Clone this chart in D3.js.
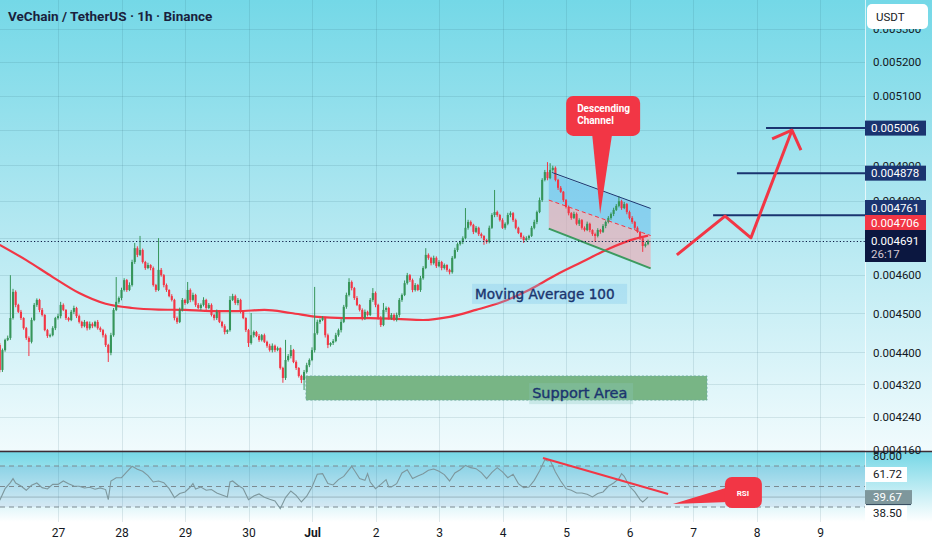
<!DOCTYPE html>
<html><head><meta charset="utf-8">
<script src="https://cdn.jsdelivr.net/npm/d3@7/dist/d3.min.js"></script>
<style>body{margin:0;background:#fff;overflow:hidden}svg{display:block}</style>
</head><body>
<svg id="c" width="932" height="550"></svg>
<script>
// ---------------- DATA ----------------
const title = "VeChain / TetherUS · 1h · Binance";
const firstCandleTime = Date.UTC(2024, 5, 26, 2); // hourly candles
// prices in units of 0.000001 USDT
const firstOpen = 4419;
const closes = [
4356,4406,4432,4437,4488,4556,4522,4504,4488,4462,
4437,4427,4483,4522,4535,4509,4496,4457,4442,4444,
4462,4488,4493,4522,4509,4488,4483,4504,4514,4493,
4478,4467,4478,4462,4473,4467,4478,4462,4457,4444,
4419,4399,4444,4509,4530,4540,4561,4587,4561,4574,
4635,4672,4654,4667,4635,4619,4627,4619,4574,4561,
4614,4600,4574,4561,4545,4535,4488,4478,4509,4535,
4527,4561,4535,4548,4522,4514,4522,4535,4514,4522,
4496,4488,4504,4478,4467,4452,4457,4535,4545,4527,
4535,4504,4488,4457,4424,4444,4452,4442,4432,4444,
4427,4417,4406,4417,4406,4411,4361,4336,4381,4391,
4406,4376,4361,4341,4331,4351,4368,4381,4406,4449,
4478,4483,4488,4444,4419,4424,4429,4444,4457,4478,
4517,4548,4582,4566,4540,4522,4509,4488,4504,4496,
4535,4553,4522,4488,4470,4509,4514,4488,4496,4483,
4496,4535,4548,4579,4600,4587,4561,4574,4561,4592,
4619,4654,4646,4632,4646,4624,4635,4619,4627,4614,
4608,4646,4667,4683,4689,4699,4727,4743,4735,4716,
4727,4710,4705,4694,4689,4727,4762,4770,4762,4748,
4727,4738,4762,4767,4748,4727,4713,4702,4694,4699,
4705,4727,4743,4770,4803,4859,4881,4864,4887,4893,
4859,4837,4826,4803,4784,4767,4754,4765,4738,4748,
4727,4721,4738,4721,4710,4705,4721,4716,4732,4743,
4754,4765,4776,4787,4800,4781,4792,4770,4754,4743,
4727,4716,4699,4678,4683,4691];
const upperWick = [
5,4,3,6,112,8,4,3,5,2, 3,4,6,5,4,3,5,2,3,4, 5,3,6,8,4,2,3,5,6,3, 4,3,5,2,6,4,3,5,4,3,
4,3,6,5,65,4,6,5,3,7, 6,14,5,38,4,3,6,2,4,3, 85,5,3,4,2,5,3,4,6,5, 3,21,4,6,3,5,4,7,3,5,
4,3,6,4,3,5,2,10,6,4, 5,3,4,2,3,57,4,3,5,3, 4,3,5,6,3,4,2,3,51,5, 13,3,4,2,3,5,6,4,7,120,
6,4,5,3,4,2,5,6,4,7, 5,6,10,4,3,5,2,4,6,3, 5,13,4,3,5,18,4,3,5,4, 6,5,4,7,6,3,4,5,3,6,
5,18,4,3,6,4,5,3,4,2, 3,5,6,4,3,5,54,6,4,3, 5,3,4,2,3,6,5,61,4,3, 5,4,6,5,3,4,3,2,4,5,
3,5,6,4,7,5,6,28,19,6, 4,3,5,2,3,4,3,6,4,5, 3,4,6,3,2,4,5,3,5,4, 5,4,6,5,14,4,6,3,4,5,
3,4,2,3,5,4];
const lowerWick = [
6,5,4,3,5,4,6,3,5,4, 5,36,4,3,5,6,4,3,5,4, 3,5,4,6,3,5,4,3,6,5, 4,5,3,6,4,5,3,4,5,6,
5,23,6,4,3,5,6,4,5,3, 4,5,6,3,4,5,3,6,4,5, 3,4,6,5,3,4,6,5,3,4, 5,3,6,4,5,3,6,4,5,3,
4,6,5,3,4,6,5,4,3,5, 6,4,3,5,10,4,6,3,5,4, 3,5,4,6,5,3,4,12,5,4, 6,3,5,4,8,25,4,5,3,6,
4,5,3,6,8,4,5,3,4,6, 3,5,4,6,5,3,4,6,5,4, 3,5,6,4,5,3,6,4,5,3, 4,6,5,3,4,5,6,4,3,5,
4,3,5,6,4,5,3,6,4,5, 6,4,3,5,4,6,3,5,4,6, 3,5,6,13,5,4,3,6,5,4, 3,5,4,6,5,4,3,5,8,4,
5,3,4,6,3,5,4,6,3,5, 4,6,3,5,4,6,5,3,4,6, 5,4,3,6,5,16,4,5,3,6, 4,5,6,3,4,5,3,6,4,5,
6,3,5,16,4,3];
// Moving average 100, sampled at candle indices
const maIndex = [0,10,20,30,40,50,60,70,80,90,100,110,120,130,140,150,160,170,180,190,200,210,220,230,240,245];
const maValues = [4681,4640,4595,4553,4525,4514,4510,4509,4506,4506,4509,4501,4491,4488,4488,4486,4483,4491,4509,4530,4561,4600,4635,4670,4697,4706];
// RSI: [candle index, value]
const rsiPoints = [[0,36.6],[2,47.9],[4,53.8],[5,57.7],[6,53.4],[8,50.5],[10,46.3],[12,51.2],[14,53.4],[16,48.9],[18,47.6],[20,52.1],[22,52.1],[24,55.4],[26,52.8],[28,50.5],[30,50.2],[32,48.6],[34,49.2],[36,47.3],[38,48.6],[40,47.0],[41,37.2],[42,55.4],[44,58.6],[46,58.6],[48,64.2],[50,69.7],[52,66.8],[54,64.8],[56,60.6],[58,54.4],[60,55.4],[62,53.8],[64,47.9],[66,39.2],[68,43.1],[70,44.7],[72,49.5],[73,52.8],[74,47.6],[76,49.5],[78,46.3],[80,47.0],[82,43.7],[84,41.8],[86,39.8],[87,54.4],[88,55.4],[90,51.2],[92,47.9],[94,37.2],[96,40.8],[98,42.7],[100,39.5],[102,37.5],[104,35.9],[106,28.4],[108,39.2],[110,45.6],[112,41.4],[114,34.9],[116,40.5],[118,49.5],[120,61.9],[122,62.5],[124,52.8],[126,51.5],[128,56.7],[130,59.9],[132,66.4],[133,69.7],[134,65.8],[136,57.7],[138,56.0],[139,62.5],[140,54.4],[142,47.9],[144,52.1],[146,56.7],[147,49.5],[148,49.5],[150,52.8],[152,63.2],[154,66.4],[156,57.7],[158,60.3],[160,62.5],[162,65.8],[164,67.1],[166,64.8],[168,61.6],[170,55.4],[172,63.2],[174,66.4],[176,70.6],[178,68.4],[180,67.4],[182,63.5],[184,57.7],[186,63.8],[188,68.4],[190,64.2],[192,58.6],[194,61.9],[196,52.8],[198,48.9],[200,49.5],[202,56.0],[204,65.1],[206,76.2],[207,74.9],[208,75.5],[210,64.2],[212,55.4],[214,47.9],[216,46.3],[218,43.7],[220,43.7],[222,42.4],[224,39.8],[226,43.1],[228,44.7],[230,50.2],[232,53.4],[234,57.7],[235,62.5],[236,59.9],[238,50.2],[240,44.7],[242,37.2],[243,34.9],[244,37.2],[245,39.67]];
// axes
const priceTicks = [5300,5200,5100,5000,4900,4800,4700,4600,4500,4400,4320,4240,4160];
const dayTicks = [27,28,29,30,31,32,33,34,35,36,37,38,39].map(d => Date.UTC(2024,5,d));
const dayLabels = ["27","28","29","30","Jul","2","3","4","5","6","7","8","9"];
const rsiBands = [70,50,30];
// price labels on axis
const priceMarkers = [5006,4878,4761];
const maLast = 4706, lastPrice = 4691, countdown = "26:17";
const rsiAxisLabels = [80.00, 61.72, 39.67, 38.50];
// drawings (candle index, price)
const targetLevels = [[289.6,5006],[278.6,4878],[269.6,4761]];
const forecastPath = [[255.9,4654],[274.1,4759],[283.9,4700],[299.4,5000]];
const forecastHead = [[291.9,4975],[299.4,5000],[302.8,4943]];
const channelIdx = [207.5,246];
const channelUpper = [4880,4780], channelMiddle = [4803,4706], channelLower = [4725,4618];
const channelTip = [226.9,4765];
const supportIdx = [115.7,267.3], supportPrices = [4341,4281];
const maLabelAnchor = [178.5,4577], supportLabelAnchor = [201.2,4286];
const rsiTrend = [[205.3,77.8],[252.6,42.7]];
const rsiTip = [254.4,32.9];

// ---------------- SCALES ----------------
const PR = 865, PB = 451, RT = 452, RB = 522;
const svg = d3.select("#c");
const x = d3.scaleUtc().domain([Date.UTC(2024,5,27), Date.UTC(2024,6,9)]).range([58,820]);
const xi = i => x(new Date(firstCandleTime + i*3600e3));
const y = d3.scaleLog().domain([4160,5200]).range([450,62]);
const ry = d3.scaleLinear().domain([30,70]).range([507,466]);
const RED = "#f23645", GREEN = "#36955a", NAVY = "#1a3470", FONT = "Roboto, 'Liberation Sans', sans-serif";

const defs = svg.append("defs");
function grad(id, stops){ const g = defs.append("linearGradient").attr("id",id).attr("x1",0).attr("y1",0).attr("x2",0).attr("y2",1);
  stops.forEach(s => g.append("stop").attr("offset",s[0]).attr("stop-color",s[1])); }
grad("gP", [[0,"#74d8e7"],[0.45,"#ade6f0"],[1,"#f1fbfd"]]);
grad("gR", [[0,"#76d7e6"],[1,"#ffffff"]]);
defs.append("clipPath").attr("id","cpP").append("rect").attr("x",0).attr("y",0).attr("width",PR).attr("height",PB);
defs.append("clipPath").attr("id","cpR").append("rect").attr("x",0).attr("y",RT).attr("width",PR).attr("height",RB-RT);

svg.append("rect").attr("width",932).attr("height",550).attr("fill","#fff");
svg.append("rect").attr("width",932).attr("height",PB).attr("fill","url(#gP)");
svg.append("rect").attr("y",RT).attr("width",932).attr("height",RB-RT).attr("fill","url(#gR)");

const gP = svg.append("g").attr("clip-path","url(#cpP)");
const gR = svg.append("g").attr("clip-path","url(#cpR)");
const grid = "rgba(40,90,110,0.13)";

// grid
gP.selectAll(".hg").data(priceTicks).join("line").attr("x1",0).attr("x2",PR)
  .attr("y1",d=>Math.round(y(d))+0.5).attr("y2",d=>Math.round(y(d))+0.5).attr("stroke",grid);
gP.selectAll(".vg").data(dayTicks).join("line").attr("y1",0).attr("y2",PB)
  .attr("x1",d=>Math.round(x(d))+0.5).attr("x2",d=>Math.round(x(d))+0.5).attr("stroke",grid);
gR.selectAll(".vg").data(dayTicks).join("line").attr("y1",RT).attr("y2",RB)
  .attr("x1",d=>Math.round(x(d))+0.5).attr("x2",d=>Math.round(x(d))+0.5).attr("stroke",grid);

// support area
gP.append("rect").attr("x",xi(supportIdx[0])).attr("width",xi(supportIdx[1])-xi(supportIdx[0]))
  .attr("y",y(supportPrices[0])).attr("height",y(supportPrices[1])-y(supportPrices[0]))
  .attr("fill","#78b585").attr("stroke","#6aa8a0").attr("stroke-width",0.8).attr("stroke-dasharray","2,2");
gP.append("rect").attr("x",xi(supportLabelAnchor[0])-3).attr("y",y(supportLabelAnchor[1])-15)
  .attr("width",104).attr("height",21).attr("fill","rgba(140,200,190,0.3)");

// channel fills
const cx0 = xi(channelIdx[0]), cx1 = xi(channelIdx[1]);
const band = (a,b) => `M${cx0},${y(a[0])}L${cx1},${y(a[1])}L${cx1},${y(b[1])}L${cx0},${y(b[0])}Z`;
gP.append("path").attr("d",band(channelUpper,channelMiddle)).attr("fill","rgba(95,185,235,0.5)");
gP.append("path").attr("d",band(channelMiddle,channelLower)).attr("fill","rgba(240,165,175,0.6)");

// MA line
const maData = maIndex.map((d,k)=>[d,maValues[k]]);
gP.append("path").datum(maData).attr("fill","none").attr("stroke",RED).attr("stroke-width",2.2)
  .attr("d", d3.line().x(d=>xi(d[0])).y(d=>y(d[1])).curve(d3.curveMonotoneX));

// candles
const candles = closes.map((c,i)=>{ const o = i===0?firstOpen:closes[i-1];
  return {i,o,c,h:Math.max(o,c)+upperWick[i],l:Math.min(o,c)-lowerWick[i]}; });
const cg = gP.append("g");
cg.selectAll("line").data(candles).join("line")
  .attr("x1",d=>xi(d.i)).attr("x2",d=>xi(d.i)).attr("y1",d=>y(d.h)).attr("y2",d=>y(d.l))
  .attr("stroke",d=>d.c>=d.o?GREEN:RED).attr("stroke-width",1);
cg.selectAll("rect").data(candles).join("rect")
  .attr("x",d=>xi(d.i)-1.05).attr("width",2.1)
  .attr("y",d=>y(Math.max(d.o,d.c))).attr("height",d=>Math.max(1.2,y(Math.min(d.o,d.c))-y(Math.max(d.o,d.c))))
  .attr("fill",d=>d.c>=d.o?GREEN:RED);

// channel lines
gP.append("line").attr("x1",cx0+3).attr("x2",cx1).attr("y1",y(channelUpper[0])).attr("y2",y(channelUpper[1])).attr("stroke","#1d3570").attr("stroke-width",1);
gP.append("line").attr("x1",cx0).attr("x2",cx1).attr("y1",y(channelMiddle[0])).attr("y2",y(channelMiddle[1])).attr("stroke",RED).attr("stroke-width",1).attr("stroke-dasharray","4,3");
gP.append("line").attr("x1",cx0).attr("x2",cx1).attr("y1",y(channelLower[0])).attr("y2",y(channelLower[1])).attr("stroke","#3c9a5f").attr("stroke-width",2);

// last price dotted
gP.append("line").attr("x1",0).attr("x2",PR).attr("y1",Math.round(y(lastPrice))+0.5).attr("y2",Math.round(y(lastPrice))+0.5)
  .attr("stroke","#0c1a45").attr("stroke-width",1.2).attr("stroke-dasharray","1.2,2.2");

// target levels
gP.selectAll(".tl").data(targetLevels).join("line").attr("x1",d=>xi(d[0])).attr("x2",PR)
  .attr("y1",d=>y(d[1])).attr("y2",d=>y(d[1])).attr("stroke",NAVY).attr("stroke-width",2);

// forecast arrow
const pl = d3.line().x(d=>xi(d[0])).y(d=>y(d[1]));
gP.append("path").attr("d",pl(forecastPath)).attr("fill","none").attr("stroke",RED).attr("stroke-width",3).attr("stroke-linejoin","round");
gP.append("path").attr("d",pl(forecastHead)).attr("fill","none").attr("stroke",RED).attr("stroke-width",3).attr("stroke-linejoin","round");

// MA label
const mx = xi(maLabelAnchor[0]), my = y(maLabelAnchor[1]);
gP.append("rect").attr("x",mx).attr("y",my).attr("width",155).attr("height",20).attr("fill","rgba(120,195,235,0.3)");
gP.append("text").attr("x",mx+3).attr("y",my+15).text("Moving Average 100")
  .attr("font-family","'DejaVu Sans', sans-serif").attr("font-size",13.6).attr("fill","#1b356f")
  .attr("stroke","#1b356f").attr("stroke-width",0.4);
// support label
gP.append("text").attr("x",xi(supportLabelAnchor[0])).attr("y",y(supportLabelAnchor[1])).text("Support Area")
  .attr("font-family","'DejaVu Sans', sans-serif").attr("font-size",14.5).attr("fill","#1b356f")
  .attr("stroke","#1b356f").attr("stroke-width",0.4);

// descending channel callout
const tx = xi(channelTip[0]), ty = y(channelTip[1]);
gP.append("rect").attr("x",tx-34).attr("y",ty-118).attr("width",74).attr("height",40).attr("rx",7).attr("fill",RED);
gP.append("path").attr("d",`M${tx-8},${ty-80}L${tx},${ty}L${tx+12},${ty-80}Z`).attr("fill",RED);
gP.append("text").attr("x",tx-23).attr("y",ty-102).text("Descending").attr("font-family",FONT).attr("font-weight","bold").attr("font-size",10).attr("fill","#fff");
gP.append("text").attr("x",tx-23).attr("y",ty-90).text("Channel").attr("font-family",FONT).attr("font-weight","bold").attr("font-size",10).attr("fill","#fff");

// ---------------- RSI PANE ----------------
gR.append("rect").attr("x",0).attr("width",PR).attr("y",ry(70)).attr("height",ry(30)-ry(70)).attr("fill","rgba(90,100,190,0.09)");
gR.selectAll(".band").data(rsiBands).join("line").attr("x1",0).attr("x2",PR)
  .attr("y1",d=>ry(d)).attr("y2",d=>ry(d)).attr("stroke","#7b8a90").attr("stroke-dasharray","5,4").attr("stroke-width",1);
gR.append("line").attr("x1",0).attr("x2",PR).attr("y1",ry(39.67)).attr("y2",ry(39.67)).attr("stroke","rgba(110,135,145,0.5)");
gR.append("path").datum(rsiPoints).attr("fill","none").attr("stroke","#7d979d").attr("stroke-width",1.1)
  .attr("d", d3.line().x(d=>xi(d[0])).y(d=>ry(d[1])));
gR.append("line").attr("x1",xi(rsiTrend[0][0])).attr("y1",ry(rsiTrend[0][1])).attr("x2",xi(rsiTrend[1][0])).attr("y2",ry(rsiTrend[1][1]))
  .attr("stroke",RED).attr("stroke-width",2);
const rx = xi(rsiTip[0]), rty = ry(rsiTip[1]);
gR.append("path").attr("d",`M${rx},${rty}L${rx+56},${rty-17}L${rx+56},${rty-2}Z`).attr("fill",RED);
gR.append("rect").attr("x",rx+52).attr("y",rty-27).attr("width",37).attr("height",31).attr("rx",7).attr("fill",RED);
gR.append("text").attr("x",rx+70).attr("y",rty-8).attr("text-anchor","middle").text("RSI")
  .attr("font-family",FONT).attr("font-weight","bold").attr("font-size",8).attr("fill","#fff");

// ---------------- AXES ----------------
svg.append("line").attr("x1",PR+0.5).attr("x2",PR+0.5).attr("y1",0).attr("y2",RB).attr("stroke","rgba(255,255,255,0.7)");
svg.append("line").attr("x1",0).attr("x2",932).attr("y1",PB+0.5).attr("y2",PB+0.5).attr("stroke","#3d2b33").attr("stroke-width",1.4);

// price markers (stacked to avoid overlap)
const lastTop = Math.round(y(lastPrice)) - 11;
let boxes = [{v:maLast,bg:RED},...priceMarkers.slice().reverse().map(v=>({v,bg:NAVY}))];
let prevTop = lastTop;
boxes.forEach(b=>{ let c = Math.min(y(b.v), prevTop - 7.5); b.top = c - 7.5; prevTop = b.top; });
const occupied = boxes.map(b=>[b.top,b.top+15]).concat([[lastTop,lastTop+32]]);

// tick labels: hide those fully covered by a marker box
const visibleTicks = priceTicks.filter(v=>{ const c=y(v); return !occupied.some(o=>c-4>=o[0]-1 && c+4<=o[1]+1); });
const yAxis = d3.axisRight(y).tickValues(visibleTicks).tickSize(0).tickPadding(0).tickFormat(d=>(d/1e6).toFixed(6));
const ya = svg.append("g").attr("transform",`translate(873,0)`).call(yAxis);
ya.select(".domain").remove();
ya.selectAll("text").attr("font-family",FONT).attr("font-size",11.5).attr("fill","#131722");

// USDT box
svg.append("rect").attr("x",867).attr("y",4).attr("width",61).attr("height",25).attr("rx",5).attr("fill","#fff");
svg.append("text").attr("x",876).attr("y",21).text("USDT").attr("font-family",FONT).attr("font-size",11.5).attr("fill","#131722");

boxes.forEach(b=>{
  svg.append("rect").attr("x",865).attr("y",b.top).attr("width",61).attr("height",15).attr("fill",b.bg);
  svg.append("text").attr("x",871).attr("y",b.top+11.5).text((b.v/1e6).toFixed(6)).attr("font-family",FONT).attr("font-size",11.5).attr("fill","#fff");
});
svg.append("rect").attr("x",865).attr("y",lastTop).attr("width",61).attr("height",32).attr("fill","#0b1740");
svg.append("text").attr("x",871).attr("y",lastTop+15).text((lastPrice/1e6).toFixed(6)).attr("font-family",FONT).attr("font-size",11.5).attr("fill","#fff");
svg.append("text").attr("x",871).attr("y",lastTop+28).text(countdown).attr("font-family",FONT).attr("font-size",11.5).attr("fill","#d6c9d2");

// RSI axis labels
svg.append("text").attr("x",873).attr("y",ry(rsiAxisLabels[0])+4).text(rsiAxisLabels[0].toFixed(2)).attr("font-family",FONT).attr("font-size",11.5).attr("fill","#131722");
svg.append("rect").attr("x",865).attr("y",ry(rsiAxisLabels[1])-7.5).attr("width",42).attr("height",15).attr("fill","#fff");
svg.append("text").attr("x",873).attr("y",ry(rsiAxisLabels[1])+4).text(rsiAxisLabels[1].toFixed(2)).attr("font-family",FONT).attr("font-size",11.5).attr("fill","#131722");
const cy = ry(rsiAxisLabels[2]);
svg.append("rect").attr("x",865).attr("y",cy-7).attr("width",47).attr("height",14).attr("fill","#7e979c");
svg.append("line").attr("x1",866).attr("x2",911).attr("y1",cy+7.5).attr("y2",cy+7.5).attr("stroke","#2b3f55");
svg.append("text").attr("x",873).attr("y",cy+4).text(rsiAxisLabels[2].toFixed(2)).attr("font-family",FONT).attr("font-size",11.5).attr("fill","#fff");
const ly = Math.max(ry(rsiAxisLabels[3]), cy + 16);
svg.append("rect").attr("x",865).attr("y",ly-7.5).attr("width",42).attr("height",15).attr("fill","#fff");
svg.append("text").attr("x",873).attr("y",ly+4).text(rsiAxisLabels[3].toFixed(2)).attr("font-family",FONT).attr("font-size",11.5).attr("fill","#131722");

// date axis
const xAxis = d3.axisBottom(x).tickValues(dayTicks).tickSize(0).tickPadding(0).tickFormat((d,k)=>dayLabels[k]);
const xa = svg.append("g").attr("transform",`translate(0,531)`).call(xAxis);
xa.select(".domain").remove();
xa.selectAll("text").attr("font-family",FONT).attr("font-size",12).attr("fill","#131722").attr("dy","0.5em")
  .attr("font-weight",(d,k)=>dayLabels[k]==="Jul"?"bold":"normal");

// title
svg.append("text").attr("x",8).attr("y",21).text(title).attr("font-family",FONT).attr("font-weight","bold").attr("font-size",13.5).attr("fill","#1a1f3d");
</script>
</body></html>
